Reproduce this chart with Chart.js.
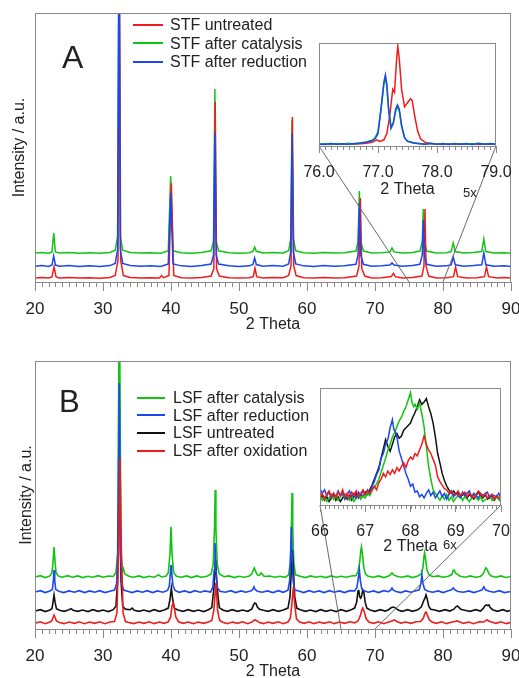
<!DOCTYPE html>
<html>
<head>
<meta charset="utf-8"/>
<title>STF / LSF XRD</title>
<script src="https://cdn.jsdelivr.net/npm/chart.js@4.4.1/dist/chart.umd.min.js"></script>
<style>
	body { margin: 0; background: #fff; }
	#page { position: relative; width: 519px; height: 678px; overflow: hidden; font-family: "Liberation Sans", Arial, sans-serif; color: #222; }
	canvas { position: absolute; }
	.legend { position: absolute; font-size: 16px; white-space: nowrap; }
	.legend .sw { display: inline-block; height: 2px; vertical-align: middle; position: relative; top: -1px; }
	.tag { position: absolute; white-space: nowrap; }
</style>
</head>
<body>
<div id="page">
	<canvas id="mainA" width="519" height="340" style="left:0px; top:0px;"></canvas>
	<canvas id="insetA" width="225" height="175" style="left:290px; top:30px;"></canvas>
	<canvas id="mainB" width="519" height="345" style="left:0px; top:340px;"></canvas>
	<canvas id="insetB" width="230" height="190" style="left:290px; top:370px;"></canvas>

	<div class="tag" style="left:62px; top:41px; font-size:32px; line-height:32px;">A</div>
	<div class="tag" style="left:59px; top:386px; font-size:31px; line-height:31px;">B</div>
	<div class="tag" style="left:463px; top:186px; font-size:13px; line-height:13px;">5x</div>
	<div class="tag" style="left:443px; top:538px; font-size:13px; line-height:13px;">6x</div>

	<div class="legend" id="legendA" style="left:133px; top:16px; line-height:18.5px;"></div>
	<div class="legend" id="legendB" style="left:137px; top:389px; line-height:17.6px;"></div>
</div>
<script>
// ---- panel A: STF, main pattern (x = 2 Theta, y = intensity in % of frame height)
const stfUntreated = [[20,1.5],[21,1.7],[22,1.5],[22.5,1.9],[22.8,5.6],[23.1,1.9],[23.6,1.5],[25,1.7],[26.5,1.5],[28,1.6],[29.5,1.4],[31,1.7],[31.8,2.4],[32.2,8],[32.4,130],[32.6,8],[33.0,2.4],[34,1.7],[35.5,1.5],[37,1.6],[38.3,1.5],[38.6,2.4],[38.9,1.6],[39.7,2.4],[40.05,36.8],[40.4,2.4],[41.5,1.6],[43,1.5],[44.5,1.7],[45.9,2.2],[46.3,5],[46.5,66.9],[46.7,5],[47.1,2.2],[48.5,1.6],[50,1.5],[51.5,1.6],[52.1,2],[52.35,5.2],[52.6,2],[53.5,1.5],[55,1.7],[56.5,1.6],[57.3,2.4],[57.65,6],[57.85,61.3],[58.05,6],[58.4,2.4],[59.5,1.6],[61,1.5],[62.5,1.7],[64,1.5],[65.5,1.6],[67.3,2.2],[67.65,6],[67.85,31.2],[68.05,5],[68.5,2.2],[69.5,1.5],[71,1.6],[72.4,2],[72.7,3.2],[73,2],[74,1.5],[75.5,1.7],[76.9,2.2],[77.2,6],[77.35,27.1],[77.5,6],[77.9,2.2],[79,1.5],[80.5,1.6],[81.55,2],[81.85,5.6],[82.15,2],[83.5,1.5],[85,1.6],[86.1,2],[86.4,5.6],[86.7,2],[88,1.5],[89,1.7],[90,1.5]];
const stfCatalysis = [[20,10.8],[21,11.0],[22,10.7],[22.5,11.2],[22.75,18.2],[23.0,11.2],[23.6,10.8],[25,11.0],[26.5,10.7],[28,10.9],[29.5,10.7],[31,11.0],[31.8,11.8],[32.15,17],[32.35,130],[32.55,17],[32.9,11.8],[34,11.0],[35.5,10.8],[37,10.9],[38.5,10.7],[39.6,11.6],[39.95,39.4],[40.3,11.6],[41.5,10.9],[43,10.7],[44.5,11.0],[45.9,11.6],[46.25,15],[46.45,71.7],[46.65,15],[47.0,11.6],[48.5,10.9],[50,10.7],[51.5,10.9],[52.05,11.4],[52.3,13.0],[52.55,11.4],[53.5,10.8],[55,11.0],[56.5,10.8],[57.3,11.6],[57.6,16],[57.8,60.2],[58.0,16],[58.35,11.6],[59.5,10.9],[61,10.7],[62.5,11.0],[64,10.8],[65.5,10.9],[67.2,11.5],[67.5,15],[67.7,33.8],[67.9,15],[68.3,11.5],[69.5,10.8],[71,10.9],[72.2,11.2],[72.5,12.6],[72.8,11.2],[74,10.8],[75.5,11.0],[76.6,11.5],[76.95,15],[77.1,27.1],[77.25,15],[77.6,11.5],[79,10.8],[80.5,10.9],[81.2,11.3],[81.5,14.5],[81.8,11.3],[83,10.8],[84.5,11.0],[85.7,11.3],[86.0,16.0],[86.3,11.3],[87.5,10.8],[89,10.9],[90,10.7]];
const stfReduction = [[20,5.9],[21,6.1],[22,5.8],[22.5,6.3],[22.75,9.7],[23.0,6.3],[23.6,5.9],[25,6.1],[26.5,5.8],[28,6.0],[29.5,5.8],[31,6.1],[31.8,6.9],[32.15,12],[32.35,130],[32.55,12],[32.9,6.9],[34,6.1],[35.5,5.9],[37,6.0],[38.5,5.8],[39.6,6.7],[39.95,33.1],[40.3,6.7],[41.5,6.0],[43,5.8],[44.5,6.1],[45.9,6.7],[46.25,10],[46.45,55.4],[46.65,10],[47.0,6.7],[48.5,6.0],[50,5.8],[51.5,6.0],[52.05,6.5],[52.3,8.9],[52.55,6.5],[53.5,5.9],[55,6.1],[56.5,5.9],[57.3,6.7],[57.6,11],[57.8,55.4],[58.0,11],[58.35,6.7],[59.5,6.0],[61,5.8],[62.5,6.1],[64,5.9],[65.5,6.0],[67.2,6.6],[67.5,10],[67.7,29.4],[67.9,10],[68.3,6.6],[69.5,5.9],[71,6.0],[72.2,6.3],[72.5,7.1],[72.8,6.3],[74,5.9],[75.5,6.1],[76.6,6.6],[76.95,10],[77.1,23.0],[77.25,10],[77.6,6.6],[79,5.9],[80.5,6.0],[81.2,6.4],[81.5,9.3],[81.8,6.4],[83,5.9],[84.5,6.1],[85.7,6.4],[86.0,10.8],[86.3,6.4],[87.5,5.9],[89,6.0],[90,5.8]];

// ---- panel A inset, 76-79 deg (5x)
const stfUntreatedZoom = [[76.0,1.5],[76.1,2],[76.2,1.4],[76.3,2.1],[76.4,1.6],[76.5,2.3],[76.6,1.8],[76.7,2.2],[76.8,2.6],[76.9,3.5],[76.98,6],[77.03,4.5],[77.1,6],[77.15,12],[77.2,30],[77.25,55],[77.28,52],[77.31,80],[77.335,97],[77.36,85],[77.4,55],[77.45,38],[77.5,42],[77.55,46],[77.58,44],[77.62,30],[77.67,15],[77.72,7],[77.8,3.5],[77.9,2.4],[78.0,2],[78.1,1.4],[78.2,2.1],[78.3,1.5],[78.4,2.2],[78.5,1.6],[78.6,2.2],[78.7,1.5],[78.8,2.1],[78.9,1.6],[79.0,2]];
const stfCatalysisZoom = [[76.0,1.8],[76.1,2.4],[76.2,1.6],[76.3,2.5],[76.4,1.9],[76.5,2.6],[76.6,2.0],[76.7,3.0],[76.8,3.8],[76.9,5.5],[76.95,8],[77.0,14],[77.05,36],[77.1,60],[77.125,66],[77.15,58],[77.18,36],[77.22,19],[77.26,23],[77.3,34],[77.33,38],[77.36,34],[77.4,19],[77.45,8],[77.5,4.8],[77.6,3.2],[77.7,2.5],[77.8,1.9],[77.9,2.6],[78.0,1.8],[78.1,2.5],[78.2,1.7],[78.3,2.4],[78.4,1.9],[78.5,2.5],[78.6,1.7],[78.7,2.6],[78.8,1.9],[78.9,2.4],[79.0,1.9]];
const stfReductionZoom = [[76.0,2],[76.1,1.5],[76.2,2.3],[76.3,1.6],[76.4,2.2],[76.5,1.8],[76.6,2.4],[76.7,2.8],[76.8,3.6],[76.9,5],[76.95,7],[77.0,12],[77.05,35],[77.1,62],[77.125,69],[77.15,60],[77.18,35],[77.22,17],[77.26,22],[77.3,36],[77.33,40],[77.36,36],[77.4,20],[77.45,8],[77.5,4.5],[77.6,3],[77.7,2.2],[77.8,1.8],[77.9,2.4],[78.0,1.6],[78.1,2.2],[78.2,1.5],[78.3,2.3],[78.4,1.7],[78.5,2.2],[78.6,1.5],[78.7,2.4],[78.8,1.7],[78.9,2.2],[79.0,1.8]];

// ---- panel B: LSF, main pattern
const lsfCatalysis = [[20,19.4],[20.8,19.9],[21.5,19.2],[22.2,19.8],[22.5,21],[22.65,25],[22.8,30.6],[22.95,25],[23.1,21],[23.4,19.8],[24,19.3],[24.8,19.9],[25.5,19.3],[26.3,19.8],[27,19.2],[27.8,19.7],[28.5,19.3],[29.3,19.9],[30,19.3],[30.8,19.8],[31.5,19.6],[31.9,21],[32.15,28],[32.4,130],[32.65,28],[32.85,21.5],[33.0,22.5],[33.2,20.5],[33.8,19.7],[34.5,19.3],[35.3,19.8],[36,19.2],[36.8,19.7],[37.5,19.3],[38.2,20.2],[38.6,19.4],[39.3,19.8],[39.6,21],[39.85,28],[40.0,38.1],[40.15,28],[40.4,21],[40.8,19.7],[41.5,19.3],[42.3,19.8],[43,19.2],[43.8,19.8],[44.5,19.3],[45.3,19.7],[45.9,20.5],[46.2,24],[46.4,38],[46.5,51.9],[46.6,38],[46.8,24],[47.1,20.5],[47.8,19.5],[48.5,19.8],[49.3,19.2],[50,19.7],[50.8,19.3],[51.5,19.8],[51.9,20.6],[52.1,22],[52.25,22.8],[52.45,21.5],[52.7,20.2],[53.0,20.0],[53.25,20.9],[53.45,20.4],[53.7,19.6],[54.5,19.8],[55.3,19.3],[56,19.7],[56.8,19.3],[57.3,20.2],[57.55,25],[57.7,38],[57.8,50.7],[57.9,38],[58.05,25],[58.3,20.2],[59,19.7],[59.8,19.2],[60.5,19.8],[61.3,19.3],[62,19.7],[62.8,19.2],[63.5,19.8],[64.3,19.3],[65,19.7],[65.8,19.3],[66.5,19.8],[67.2,19.9],[67.5,21.5],[67.75,25],[67.9,29],[68.0,30.6],[68.15,28],[68.35,23],[68.6,20.5],[69,19.7],[69.8,19.3],[70.5,19.8],[71.3,19.2],[72.0,19.8],[72.3,20.3],[72.5,20.9],[72.75,20.2],[73.2,19.7],[74,19.3],[74.8,19.8],[75.5,19.2],[76.3,19.8],[76.8,20.5],[77.05,23],[77.2,27],[77.3,28.4],[77.45,26],[77.65,22],[77.95,20.2],[78.5,19.5],[79.3,19.8],[80,19.3],[80.8,19.7],[81.3,20.3],[81.5,21.8],[81.65,22.0],[81.85,20.8],[82.1,20.5],[82.5,19.7],[83.3,19.3],[84,19.8],[84.8,19.3],[85.5,19.6],[85.9,20.5],[86.15,22],[86.3,22.8],[86.5,22.2],[86.75,20.6],[87.1,19.8],[87.8,19.3],[88.5,19.8],[89.3,19.2],[90,19.6]];
const lsfReduction = [[20,13.8],[20.8,14.3],[21.5,13.6],[22.2,14.2],[22.55,14.8],[22.7,18],[22.8,22.0],[22.9,18],[23.05,14.8],[23.5,14.1],[24.2,13.6],[25,14.2],[25.8,13.7],[26.5,14.3],[27.3,13.6],[28,14.2],[28.8,13.7],[29.5,14.3],[30.3,13.6],[31,14.1],[31.7,14.5],[32.0,17],[32.2,30],[32.4,91.8],[32.55,30],[32.75,17],[33.05,14.5],[33.6,14.1],[34.3,13.6],[35,14.2],[35.8,13.7],[36.5,14.3],[37.3,13.6],[38,14.2],[38.8,13.7],[39.5,14.4],[39.75,16],[39.92,21],[40.0,23.9],[40.1,21],[40.3,16],[40.6,14.4],[41.2,13.7],[42,14.2],[42.8,13.6],[43.5,14.3],[44.3,13.7],[45,14.2],[45.8,13.8],[46.15,15.5],[46.35,22],[46.47,32.1],[46.6,22],[46.8,15.5],[47.2,14.1],[48,13.7],[48.8,14.3],[49.5,13.6],[50.3,14.2],[51,13.7],[51.8,14.3],[52.05,14.8],[52.2,15.7],[52.35,14.8],[52.7,14.1],[53.4,13.7],[54.2,14.2],[55,13.6],[55.8,14.3],[56.5,13.7],[57.2,14.5],[57.45,18],[57.6,28],[57.7,38.1],[57.8,28],[57.95,18],[58.2,14.5],[58.8,14.2],[59.5,13.6],[60.3,14.3],[61,13.7],[61.8,14.2],[62.5,13.6],[63.3,14.3],[64,13.7],[64.8,14.2],[65.5,13.6],[66.3,14.3],[67,14.2],[67.35,15.5],[67.55,19],[67.7,22.0],[67.85,18],[68.05,15],[68.4,14.3],[69,13.7],[69.8,14.2],[70.5,13.6],[71.3,14.3],[72.0,13.9],[72.3,14.5],[72.5,15.3],[72.7,14.5],[73.1,14.0],[73.8,13.6],[74.5,14.2],[75.3,13.7],[76,14.3],[76.5,14.6],[76.75,17],[76.9,20.1],[77.05,17],[77.3,14.8],[77.8,14.1],[78.5,13.7],[79.3,14.2],[80,13.6],[80.8,14.3],[81.25,14.6],[81.5,15.3],[81.75,14.6],[82.2,14.0],[83,13.7],[83.8,14.2],[84.5,13.6],[85.3,14.2],[85.75,14.6],[86.0,15.7],[86.25,14.6],[86.8,14.1],[87.5,13.7],[88.3,14.3],[89,13.6],[90,14.0]];
const lsfUntreated = [[20,6.7],[20.8,7.2],[21.5,6.5],[22.2,7.1],[22.5,7.6],[22.65,10],[22.8,12.7],[22.95,10],[23.15,7.6],[23.6,7.0],[24.3,6.6],[25.0,7.2],[25.3,7.6],[25.6,7.0],[26.3,6.6],[27,7.1],[27.8,6.5],[28.5,7.2],[29.3,6.6],[30,7.1],[30.8,6.5],[31.5,7.2],[31.9,8.5],[32.15,18],[32.4,60],[32.65,18],[32.9,8.5],[33.3,7.4],[34,7.2],[34.3,7.8],[34.6,7.0],[35.3,6.6],[36,7.1],[36.8,6.5],[37.5,7.2],[38.3,6.6],[39,7.1],[39.6,7.8],[39.85,11],[40.05,15.3],[40.25,11],[40.5,7.8],[41,7.1],[41.8,6.6],[42.5,7.2],[43.3,6.6],[44,7.1],[44.8,6.5],[45.5,7.2],[46.0,8],[46.3,15],[46.55,25.7],[46.8,15],[47.1,8],[47.6,7.1],[48.3,6.6],[49,7.2],[49.8,6.6],[50.5,7.1],[51.3,6.6],[51.9,7.5],[52.1,8.8],[52.3,9.7],[52.5,9.5],[52.7,8.2],[53.0,7.4],[53.6,7.0],[54.3,6.6],[55,7.2],[55.8,6.6],[56.5,7.1],[57.2,7.8],[57.5,12],[57.7,22],[57.85,29.5],[58.0,22],[58.2,12],[58.5,7.8],[59,7.2],[59.8,6.6],[60.5,7.1],[61.3,6.5],[62,7.2],[62.8,6.6],[63.5,7.1],[64.3,6.5],[65,7.2],[65.8,6.6],[66.5,7.2],[67.0,7.8],[67.3,10],[67.5,14.2],[67.6,14.6],[67.75,12],[67.9,11.5],[68.05,12.5],[68.2,14.6],[68.35,14],[68.55,10],[68.8,7.8],[69.3,7.1],[70,6.6],[70.8,7.2],[71.5,6.7],[72.0,7.2],[72.35,7.9],[72.7,8.2],[73.05,7.8],[73.4,7.1],[74,6.6],[74.8,7.2],[75.5,6.6],[76.3,7.2],[76.8,8.2],[77.05,9.8],[77.2,10.8],[77.35,11.5],[77.5,12.7],[77.65,11.5],[77.9,8.5],[78.2,7.4],[78.8,7.1],[79.5,6.6],[80.3,7.2],[81,6.7],[81.6,7.4],[81.9,8.3],[82.1,8.6],[82.3,8.2],[82.6,7.4],[83.2,7.0],[84,6.6],[84.8,7.2],[85.5,6.7],[85.9,7.6],[86.15,8.6],[86.35,9.0],[86.55,8.7],[86.75,9.0],[86.95,8.0],[87.3,7.2],[88,6.6],[88.8,7.2],[89.5,6.6],[90,7.0]];
const lsfOxidation = [[20,2.2],[20.8,2.7],[21.5,2.0],[22.2,2.6],[22.5,3.2],[22.65,4.3],[22.8,5.2],[22.95,4.3],[23.15,3.0],[23.6,2.4],[24.3,2.0],[25,2.6],[25.8,2.1],[26.5,2.7],[27.3,2.0],[28,2.6],[28.8,2.1],[29.5,2.7],[30.3,2.0],[31,2.6],[31.7,2.8],[32.05,6],[32.3,30],[32.5,63.8],[32.7,30],[32.95,6],[33.3,2.8],[33.8,2.4],[34.5,2.0],[35.3,2.6],[36,2.1],[36.8,2.7],[37.5,2.0],[38.3,2.6],[39,2.1],[39.6,2.7],[39.95,4.5],[40.15,8.5],[40.3,9.7],[40.45,8.5],[40.7,4.5],[41.1,2.7],[41.8,2.1],[42.5,2.6],[43.3,2.0],[44,2.6],[44.8,2.1],[45.5,2.6],[46.0,3.2],[46.3,7],[46.6,17.2],[46.85,7],[47.15,3.2],[47.6,2.5],[48.3,2.0],[49,2.6],[49.8,2.1],[50.5,2.7],[51.3,2.0],[51.9,2.6],[52.15,3.2],[52.4,3.4],[52.65,3.0],[53,2.4],[53.6,2.0],[54.3,2.6],[55,2.1],[55.8,2.7],[56.5,2.0],[57.2,2.6],[57.55,4],[57.8,10],[58.0,15.7],[58.2,9],[58.45,3.8],[58.9,2.6],[59.6,2.1],[60.3,2.7],[61,2.0],[61.8,2.6],[62.5,2.1],[63.3,2.7],[64,2.0],[64.8,2.6],[65.5,2.1],[66.3,2.7],[67,2.3],[67.5,3],[67.85,5],[68.05,7],[68.2,7.8],[68.4,6.5],[68.7,3.8],[69.1,2.6],[69.8,2.1],[70.5,2.7],[71.3,2.0],[72,2.6],[72.5,3.0],[72.85,3.4],[73.2,2.8],[73.8,2.2],[74.5,2.6],[75.3,2.1],[76,2.7],[76.7,2.8],[77.1,4],[77.35,5.8],[77.5,6.3],[77.7,5.2],[78,3.4],[78.4,2.6],[79,2.1],[79.8,2.7],[80.5,2.0],[81.3,2.6],[81.8,2.8],[82.1,3.0],[82.4,2.7],[83,2.1],[83.8,2.6],[84.5,2.0],[85.3,2.7],[86,2.6],[86.3,3.2],[86.5,3.4],[86.7,3.0],[87.1,2.6],[87.8,2.1],[88.5,2.7],[89.3,2.0],[90,2.5]];

// ---- panel B inset, 66-70 deg (6x)
const lsfCatalysisZoom = [[66.0,8],[66.05,4],[66.1,7],[66.15,3],[66.2,6],[66.25,9],[66.3,5],[66.35,8],[66.4,4],[66.45,7],[66.5,10],[66.55,5],[66.6,8],[66.65,4],[66.7,7],[66.75,3],[66.8,6],[66.85,9],[66.9,5],[66.95,8],[67.0,6],[67.05,10],[67.1,8],[67.15,12],[67.2,15],[67.25,18],[67.3,22],[67.35,28],[67.4,34],[67.45,40],[67.5,47],[67.55,52],[67.6,58],[67.65,62],[67.7,67],[67.75,72],[67.8,75],[67.85,80],[67.9,84],[67.95,90],[68.0,96],[68.03,88],[68.07,84],[68.1,86],[68.15,82],[68.2,87],[68.25,78],[68.3,67],[68.35,50],[68.4,33],[68.45,22],[68.5,13],[68.55,10],[68.6,7],[68.65,4],[68.7,8],[68.75,5],[68.8,9],[68.85,4],[68.9,7],[68.95,3],[69.0,6],[69.1,9],[69.15,4],[69.2,7],[69.3,3],[69.35,6],[69.4,9],[69.5,4],[69.55,7],[69.6,3],[69.7,6],[69.75,8],[69.8,4],[69.9,7],[70.0,3]];
const lsfReductionZoom = [[66.0,14],[66.05,10],[66.1,13],[66.15,8],[66.2,11],[66.25,6],[66.3,10],[66.35,7],[66.4,12],[66.45,8],[66.5,10],[66.55,5],[66.6,9],[66.65,12],[66.7,7],[66.75,10],[66.8,6],[66.85,11],[66.9,8],[66.95,12],[67.0,9],[67.05,13],[67.1,10],[67.15,16],[67.2,20],[67.25,26],[67.3,30],[67.35,40],[67.4,44],[67.45,52],[67.5,56],[67.55,66],[67.6,73],[67.63,65],[67.67,62],[67.7,58],[67.75,46],[67.8,40],[67.85,33],[67.9,27],[67.95,22],[68.0,16],[68.05,18],[68.1,11],[68.15,12],[68.2,7],[68.25,9],[68.3,6],[68.35,10],[68.4,13],[68.45,8],[68.5,11],[68.55,6],[68.6,9],[68.65,12],[68.7,7],[68.75,10],[68.8,5],[68.85,9],[68.9,12],[68.95,7],[69.0,10],[69.1,6],[69.15,11],[69.2,8],[69.3,12],[69.35,7],[69.4,10],[69.5,6],[69.55,10],[69.6,8],[69.7,11],[69.75,6],[69.8,9],[69.9,7],[69.95,10],[70.0,6]];
const lsfUntreatedZoom = [[66.0,5],[66.05,8],[66.1,4],[66.15,7],[66.2,3],[66.25,6],[66.3,9],[66.35,4],[66.4,7],[66.45,3],[66.5,6],[66.55,9],[66.6,5],[66.65,8],[66.7,4],[66.75,7],[66.8,10],[66.85,6],[66.9,9],[66.95,7],[67.0,11],[67.05,9],[67.1,13],[67.15,17],[67.2,22],[67.25,27],[67.3,32],[67.35,40],[67.4,48],[67.45,56],[67.5,50],[67.55,46],[67.6,52],[67.65,58],[67.7,61],[67.75,57],[67.8,59],[67.85,64],[67.9,66],[67.95,68],[68.0,70],[68.05,75],[68.1,79],[68.15,84],[68.2,90],[68.25,86],[68.3,88],[68.35,91],[68.4,84],[68.45,78],[68.5,70],[68.55,58],[68.6,44],[68.65,36],[68.7,27],[68.75,21],[68.8,16],[68.85,13],[68.9,10],[68.95,12],[69.0,9],[69.05,11],[69.1,7],[69.2,10],[69.25,6],[69.3,9],[69.4,5],[69.45,8],[69.5,11],[69.6,6],[69.65,9],[69.7,5],[69.8,8],[69.85,4],[69.9,7],[70.0,3]];
const lsfOxidationZoom = [[66.0,6],[66.05,10],[66.1,5],[66.15,9],[66.2,12],[66.25,7],[66.3,10],[66.35,6],[66.4,11],[66.45,8],[66.5,13],[66.55,7],[66.6,10],[66.65,6],[66.7,11],[66.75,8],[66.8,12],[66.85,7],[66.9,10],[66.95,13],[67.0,9],[67.05,12],[67.1,10],[67.15,14],[67.2,16],[67.25,13],[67.3,19],[67.35,22],[67.4,27],[67.45,24],[67.5,29],[67.55,26],[67.6,30],[67.65,27],[67.7,32],[67.75,29],[67.8,33],[67.85,36],[67.9,32],[67.95,38],[68.0,41],[68.05,39],[68.1,44],[68.15,42],[68.2,47],[68.25,52],[68.3,59],[68.35,52],[68.4,47],[68.45,44],[68.5,39],[68.55,34],[68.6,24],[68.65,20],[68.7,17],[68.75,14],[68.8,13],[68.85,10],[68.9,12],[68.95,9],[69.0,9],[69.05,12],[69.1,8],[69.2,11],[69.25,7],[69.3,10],[69.4,6],[69.45,9],[69.5,12],[69.6,7],[69.65,10],[69.7,6],[69.8,9],[69.85,5],[69.9,8],[70.0,5]];

const RED = '#f01c1c', GREEN = '#12c412', BLUE = '#1c46f0', BLACK = '#111111';
const FONT = '"Liberation Sans", Arial, sans-serif';

const legendA = [['STF untreated', RED], ['STF after catalysis', GREEN], ['STF after reduction', BLUE]];
const legendB = [['LSF after catalysis', GREEN], ['LSF after reduction', BLUE], ['LSF untreated', BLACK], ['LSF after oxidation', RED]];

function fillLegend(id, items, swatchWidth, gap)
{
	const box = document.getElementById(id);
	items.forEach(([label, color]) =>
	{
		const row = document.createElement('div');
		const sw = document.createElement('span');
		sw.className = 'sw';
		sw.style.width = swatchWidth + 'px';
		sw.style.marginRight = gap + 'px';
		sw.style.background = color;
		row.appendChild(sw);
		row.appendChild(document.createTextNode(label));
		box.appendChild(row);
	});
}
fillLegend('legendA', legendA, 30, 7);
fillLegend('legendB', legendB, 28, 8);

const charts = {};	// charts by canvas id, the zoom lines look the insets up here

// frame round the plot area, minor ticks, white background, zoom lines
const framePlugin =
{
	id: 'frame',
	beforeDraw(chart)
	{
		const {ctx, chartArea: a} = chart;
		ctx.save();
		ctx.fillStyle = '#fff';
		ctx.fillRect(a.left, a.top, a.width, a.height);
		ctx.restore();
	},
	afterDraw(chart, args, o)
	{
		const {ctx, chartArea: a} = chart;
		const x = chart.scales.x;
		ctx.save();
		ctx.strokeStyle = o.color;
		ctx.lineWidth = 1;
		ctx.strokeRect(Math.round(a.left) + 0.5, Math.round(a.top) + 0.5, Math.round(a.width) - 1, Math.round(a.height));
		const n = Math.round((x.max - x.min) / o.minor);
		ctx.beginPath();
		for (let i = 0; i <= n; i++)
		{
			const px = Math.round(x.getPixelForValue(x.min + i * o.minor)) + 0.5;
			ctx.moveTo(px, a.bottom);
			ctx.lineTo(px, a.bottom + o.minorLen);
		}
		ctx.stroke();
		if (o.zoomTo && charts[o.zoomTo])
		{
			const ia = charts[o.zoomTo].chartArea;
			ctx.strokeStyle = '#6a6a6a';
			ctx.beginPath();
			ctx.moveTo(o.dx + ia.left, o.dy + ia.bottom);
			ctx.lineTo(x.getPixelForValue(o.lo), a.bottom);
			ctx.moveTo(o.dx + ia.right, o.dy + ia.bottom);
			ctx.lineTo(x.getPixelForValue(o.hi), a.bottom);
			ctx.stroke();
		}
		ctx.restore();
	}
};

function ds(data, color, width)
{
	return {
		data: data.map(p => ({x: p[0], y: p[1]})),
		borderColor: color,
		borderWidth: width,
		pointRadius: 0,
		tension: 0,
		fill: false
	};
}

function makeChart(id, datasets, cfg)
{
	const ctx = document.getElementById(id).getContext('2d');
	const scales =
	{
		x:
		{
			type: 'linear',
			min: cfg.xmin,
			max: cfg.xmax,
			afterFit: s => { s.height = cfg.axisHeight; s.paddingLeft = 0; s.paddingRight = 0; },
			border: {display: false},
			grid: {display: true, drawOnChartArea: false, drawTicks: true, tickLength: cfg.majorLen, tickColor: '#888', color: '#888'},
			ticks: {stepSize: cfg.step, autoSkip: false, maxRotation: 0, padding: cfg.tickPad, color: '#222', font: {family: FONT, size: cfg.tickSize}, callback: cfg.fmt},
			title: {display: true, text: '2 Theta', color: '#222', font: {family: FONT, size: 16}, padding: {top: 0, bottom: cfg.titlePad}}
		},
		y:
		{
			type: 'linear',
			min: 0,
			max: 100,
			display: cfg.yWidth ? true : false,
			afterFit: s => { s.width = cfg.yWidth || 0; s.paddingTop = 0; s.paddingBottom = 0; },
			border: {display: false},
			grid: {display: false},
			ticks: {display: false},
			title: {display: true, text: 'Intensity / a.u.', color: '#222', font: {family: FONT, size: 16}, padding: {top: cfg.yTitle || 0, bottom: 0}}
		}
	};
	const chart = new Chart(ctx,
	{
		type: 'line',
		data: {datasets: datasets},
		options:
		{
			responsive: false,
			animation: false,
			events: [],
			layout: {padding: cfg.padding},
			scales: scales,
			plugins:
			{
				legend: {display: false},
				tooltip: {enabled: false},
				frame: Object.assign({color: '#8a8a8a', minor: cfg.minor, minorLen: cfg.minorLen}, cfg.zoom || {})
			}
		},
		plugins: [framePlugin]
	});
	charts[id] = chart;
	return chart;
}

// insets first, the main charts draw the zoom lines to them
makeChart('insetA',
	[ds(stfReductionZoom, BLUE, 1.5), ds(stfCatalysisZoom, GREEN, 1.5), ds(stfUntreatedZoom, RED, 1.5)],
	{xmin: 76, xmax: 79, step: 1, minor: 0.1, majorLen: 7, minorLen: 4, tickPad: 10, tickSize: 16, titlePad: 6,
	 axisHeight: 59, padding: {left: 29, right: 19, top: 13, bottom: 0}, fmt: v => Number(v).toFixed(1)});

makeChart('insetB',
	[ds(lsfOxidationZoom, RED, 1.5), ds(lsfReductionZoom, BLUE, 1.5), ds(lsfCatalysisZoom, GREEN, 1.5), ds(lsfUntreatedZoom, BLACK, 1.5)],
	{xmin: 66, xmax: 70, step: 1, minor: 0.1, majorLen: 7, minorLen: 4, tickPad: 10, tickSize: 16, titlePad: 4,
	 axisHeight: 55, padding: {left: 30, right: 19, top: 18, bottom: 0}, fmt: v => Number(v).toFixed(0)});

makeChart('mainA',
	[ds(stfReduction, BLUE, 1.5), ds(stfUntreated, RED, 1.5), ds(stfCatalysis, GREEN, 1.5)],
	{xmin: 20, xmax: 90, step: 10, minor: 1, majorLen: 9, minorLen: 5, tickPad: 8, tickSize: 17, titlePad: 6,
	 axisHeight: 58, yWidth: 35, yTitle: 9.6, padding: {left: 0, right: 8, top: 13, bottom: 0}, fmt: v => v,
	 zoom: {zoomTo: 'insetA', dx: 290, dy: 30, lo: 75, hi: 80}});

makeChart('mainB',
	[ds(lsfOxidation, RED, 1.6), ds(lsfReduction, BLUE, 1.6), ds(lsfUntreated, BLACK, 1.6), ds(lsfCatalysis, GREEN, 1.6)],
	{xmin: 20, xmax: 90, step: 10, minor: 1, majorLen: 9, minorLen: 5, tickPad: 8, tickSize: 17, titlePad: 4,
	 axisHeight: 56, yWidth: 35, yTitle: 17.4, padding: {left: 0, right: 8, top: 21, bottom: 0}, fmt: v => v,
	 zoom: {zoomTo: 'insetB', dx: 290, dy: 30, lo: 65, hi: 70}});
</script>
</body>
</html>
